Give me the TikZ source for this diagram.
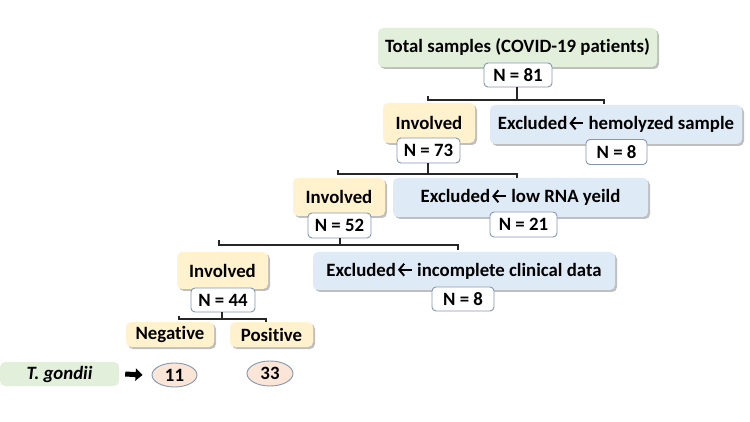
\documentclass[tikz,border=0pt]{standalone}
\usepackage{fontspec}
\setmainfont[Ligatures=NoCommon]{Carlito}
\usetikzlibrary{shadows,shapes.geometric,arrows.meta}
\definecolor{gfill}{HTML}{E2EFDA}
\definecolor{yfill}{HTML}{FFF2CC}
\definecolor{bfill}{HTML}{DEEBF7}
\definecolor{nline}{HTML}{8497B0}
\definecolor{efill}{HTML}{FBE5D6}
\definecolor{lnk}{HTML}{262626}
\newcommand{\larr}{\hspace{1pt}\tikz[baseline={(0,-6.5pt)}, x=1pt, y=1pt]\draw[line width=1.9pt, {Straight Barb[length=5pt,width=12pt,line width=1.9pt]}-] (0,0) -- (14,0);}
\begin{document}
\begin{tikzpicture}[x=1pt,y=-1pt,
  font=\bfseries\fontsize{18.8}{22}\selectfont,
  cbox/.style={rounded corners=5pt, inner sep=0pt,
    drop shadow={shadow xshift=2pt, shadow yshift=-2pt, fill=black, opacity=0.25}},
  gbox/.style={cbox, fill=gfill},
  ybox/.style={cbox, fill=yfill},
  bbox/.style={cbox, fill=bfill},
  nbox/.style={draw=nline, line width=0.9pt, fill=white, rounded corners=4pt, inner sep=0pt},
  ebox/.style={ellipse, draw=nline, line width=0.9pt, fill=efill, inner sep=0pt},
  link/.style={draw=lnk, line width=1.1pt},
  fatarrow/.style={line width=5pt, -{Triangle[length=7pt,width=12pt]}}]
\useasboundingbox (0,0) rectangle (750,422);
% coloured boxes
\node[gbox, minimum width=279, minimum height=39] (total) at (517.5,47.5) {Total samples (COVID-19 patients)};
\node[ybox, minimum width=92, minimum height=40] (inv1) at (429,123) {Involved};
\node[bbox, minimum width=252, minimum height=39] (exc1) at (616,124.5) {Excluded\larr{} hemolyzed sample};
\node[ybox, minimum width=92, minimum height=38] (inv2) at (339,197) {Involved};
\node[bbox, minimum width=255, minimum height=39] (exc2) at (520.5,197.5) {Excluded\larr{} low RNA yeild};
\node[ybox, minimum width=91, minimum height=37] (inv3) at (222.5,270.5) {Involved};
\node[bbox, minimum width=302, minimum height=38] (exc3) at (464,271) {Excluded\larr{} incomplete clinical data};
\node[ybox, minimum width=88, minimum height=25] (neg) at (170,334.5) {Negative};
\node[ybox, minimum width=83, minimum height=25] (pos) at (271.5,334.5) {Positive};
\node[rounded corners=5pt, inner sep=0pt, fill=gfill, minimum width=119, minimum height=24] (tg) at (59.5,374) {\itshape T. gondii};
% count boxes
\node[nbox, minimum width=68, minimum height=24] (n81) at (518,75) {N = 81};
\node[nbox, minimum width=63, minimum height=25] (n73) at (428.5,150.5) {N = 73};
\node[nbox, minimum width=61, minimum height=25] (n8a) at (616.5,152) {N = 8};
\node[nbox, minimum width=63, minimum height=25] (n52) at (339.5,225.5) {N = 52};
\node[nbox, minimum width=67, minimum height=25] (n21) at (523.5,224.5) {N = 21};
\node[nbox, minimum width=64, minimum height=24] (n44) at (223,300) {N = 44};
\node[nbox, minimum width=62, minimum height=24] (n8b) at (463,299) {N = 8};
\node[ebox, minimum width=45, minimum height=24] (e11) at (174.5,375) {11};
\node[ebox, minimum width=46, minimum height=25] (e33) at (270,373.5) {33};
% brackets
\coordinate (b1) at (517,100);
\coordinate (b1l) at (428,100);
\coordinate (b1r) at (604,100);
\draw[link] (n81.south -| b1) -- (b1);
\draw[link] ([yshift=4pt]b1l) -- (b1l) -- (b1r) -- ++(0,4);
\coordinate (b2) at (428,174);
\coordinate (b2l) at (338,174);
\coordinate (b2r) at (517,174);
\draw[link] (n73.south -| b2) -- (b2);
\draw[link] ([yshift=4pt]b2l) -- (b2l) -- (b2r) -- ++(0,4);
\coordinate (b3) at (340,245);
\coordinate (b3l) at (219,245);
\coordinate (b3r) at (458,245);
\draw[link] (n52.south -| b3) -- (b3);
\draw[link] ([yshift=5pt]b3l) -- (b3l) -- (b3r) -- ++(0,5);
\coordinate (b4) at (222,319);
\coordinate (b4l) at (179,319);
\coordinate (b4r) at (266,319);
\draw[link] (n44.south -| b4) -- (b4);
\draw[link] ([yshift=3pt]b4l) -- (b4l) -- (b4r) -- ++(0,3);
% arrow
\draw[fatarrow] ([xshift=6pt]tg.east) -- ([xshift=-9pt]e11.west);
\end{tikzpicture}
\end{document}
